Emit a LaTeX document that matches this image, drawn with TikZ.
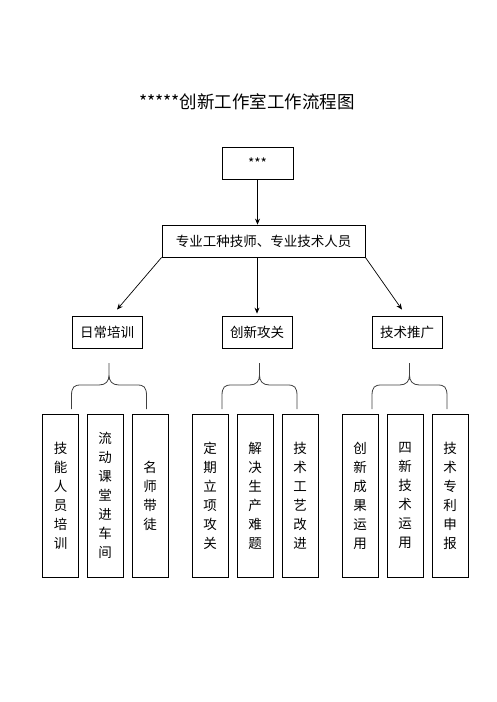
\documentclass[tikz,border=0pt]{standalone}
\usepackage{fontspec}
\setmainfont{Noto Sans CJK SC}
\usetikzlibrary{arrows.meta}
\begin{document}
\begin{tikzpicture}[x=1pt,y=-1pt,
  box/.style={draw=black, line width=0.8pt, inner sep=0pt, font=\fontsize{13.5}{16}\selectfont},
  colbox/.style={draw=black, line width=0.8pt, inner sep=0pt, minimum width=36pt, minimum height=163pt, align=center, font=\fontsize{13.5}{19}\selectfont},
  arr/.style={line width=0.7pt, -{Stealth[length=6pt,width=5pt]}}]
\useasboundingbox (0,0) rectangle (496,702);
% title
\node (title) at (247,102) {\fontsize{17.5}{20}\selectfont *****创新工作室工作流程图};
% top
\node [box, minimum width=71pt, minimum height=32pt] (boss) at (257.5,163) {***};
\node [box, minimum width=203pt, minimum height=32pt] (staff) at (263.5,241) {专业工种技师、专业技术人员};
% three branches
\node [box, minimum width=70pt, minimum height=32pt] (daily) at (107,332) {日常培训};
\node [box, minimum width=70pt, minimum height=32pt] (innov) at (257,332) {创新攻关};
\node [box, minimum width=70pt, minimum height=32pt] (promo) at (407,332) {技术推广};
% columns
\node [colbox] (c1) at (60.5,495.5) {技\\能\\人\\员\\培\\训};
\node [colbox] (c2) at (105,495.5) {流\\动\\课\\堂\\进\\车\\间};
\node [colbox] (c3) at (150,495.5) {名\\师\\带\\徒};
\node [colbox] (c4) at (210,495.5) {定\\期\\立\\项\\攻\\关};
\node [colbox] (c5) at (255,495.5) {解\\决\\生\\产\\难\\题};
\node [colbox] (c6) at (300,495.5) {技\\术\\工\\艺\\改\\进};
\node [colbox] (c7) at (360,495.5) {创\\新\\成\\果\\运\\用};
\node [colbox] (c8) at (405,495.5) {四\\新\\技\\术\\运\\用};
\node [colbox] (c9) at (450,495.5) {技\\术\\专\\利\\申\\报};
% arrows
\draw [arr] (boss.south) -- (boss.south |- staff.north);
\draw [arr] (staff.south west) -- ([shift={(10,-6)}]daily.north);
\draw [arr] (innov.north |- staff.south) -- ([shift={(0,-2)}]innov.north);
\draw [arr] (staff.south east) -- ([shift={(-5,-6)}]promo.north);
% braces
\foreach \cx in {109,259.5,409.5}
  \draw [line width=0.8pt, black!75] (\cx-37.5,409) -- (\cx-37.5,396)
    .. controls (\cx-37.5,387) and (\cx-35,385) .. (\cx-28,385) -- (\cx-10,385)
    .. controls (\cx-3,385) and (\cx,381) .. (\cx,375) -- (\cx,363)
    (\cx,375) .. controls (\cx,381) and (\cx+3,385) .. (\cx+10,385) -- (\cx+28,385)
    .. controls (\cx+35,385) and (\cx+37.5,387) .. (\cx+37.5,396) -- (\cx+37.5,409);
\end{tikzpicture}
\end{document}
